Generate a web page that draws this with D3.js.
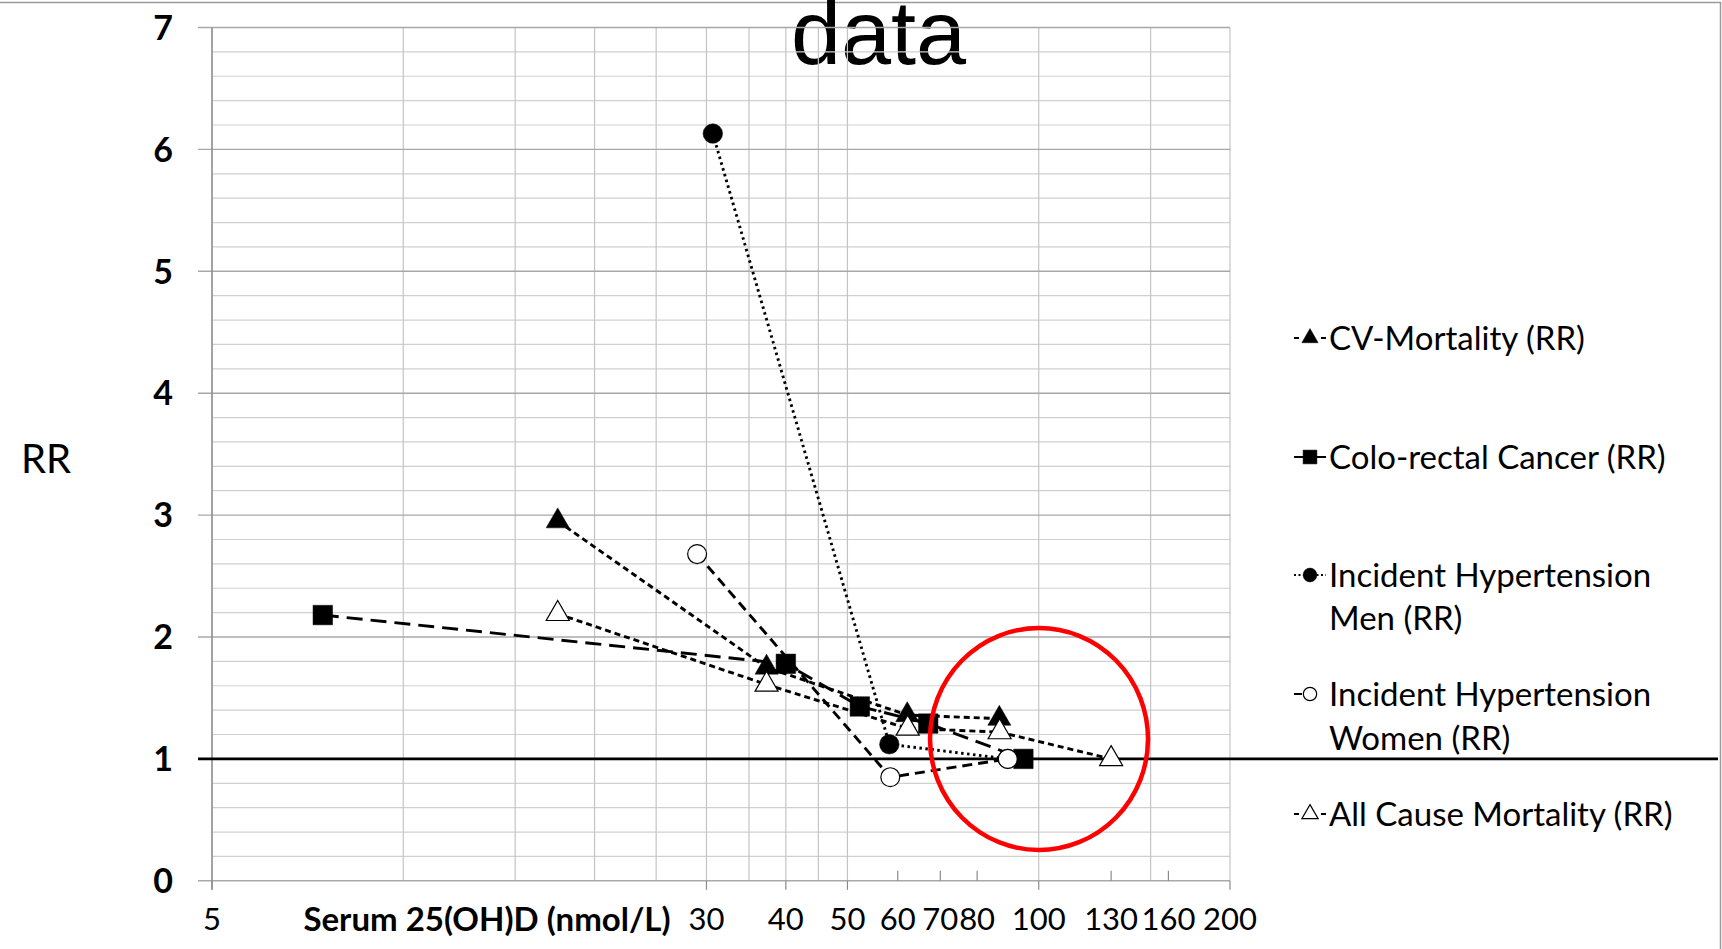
<!DOCTYPE html>
<html>
<head>
<meta charset="utf-8">
<script src="https://cdn.jsdelivr.net/npm/d3@7"></script>
<style>
  html, body { margin: 0; padding: 0; background: #fff; }
  svg { display: block; }
</style>
</head>
<body>
<script>
// ---------- data ----------
const xTickValues = [5, 30, 40, 50, 60, 70, 80, 100, 130, 160, 200];
const xGridValues = [5, 10, 15, 20, 25, 30, 35, 40, 45, 50, 100, 150, 200];
const yTickValues = [0, 1, 2, 3, 4, 5, 6, 7];

const cvX = [17.5, 37.3, 62.1, 86.7];
const cvY = [2.95, 1.75, 1.36, 1.33];
const crcX = [7.47, 40, 52.3, 67, 94.6];
const crcY = [2.18, 1.78, 1.43, 1.29, 1.0];
const menX = [30.7, 58.2, 89.4];
const menY = [6.13, 1.12, 1.0];
const womenX = [29.0, 58.4, 89.4];
const womenY = [2.68, 0.85, 1.0];
const allX = [17.5, 37.3, 62.2, 86.8, 130];
const allY = [2.19, 1.61, 1.25, 1.22, 1.0];

const seriesNames = ["CV-Mortality (RR)", "Colo-rectal Cancer (RR)",
  "Incident Hypertension\nMen (RR)", "Incident Hypertension\nWomen (RR)",
  "All Cause Mortality (RR)"];

// ---------- styles ----------
const series = [
  { name: seriesNames[0], xs: cvX, ys: cvY, symbol: d3.symbolTriangle, size: 230, fill: "#000", dash: "6,4", legDash: "5,22", legendY: [338] },
  { name: seriesNames[1], xs: crcX, ys: crcY, symbol: d3.symbolSquare, size: 380, fill: "#000", dash: "16,8", legDash: "none", legendY: [457] },
  { name: seriesNames[2], xs: menX, ys: menY, symbol: d3.symbolCircle, size: 300, fill: "#000", dash: "2.5,3.5", legDash: "2,2.5", legendY: [575, 618] },
  { name: seriesNames[3], xs: womenX, ys: womenY, symbol: d3.symbolCircle, size: 280, fill: "#fff", dash: "10,6", legDash: "8,40", legendY: [694, 738] },
  { name: seriesNames[4], xs: allX, ys: allY, symbol: d3.symbolTriangle, size: 230, fill: "#fff", dash: "6,4", legDash: "5,22", legendY: [814] }
];

const W = 1722, H = 949;
const svg = d3.select("body").append("svg").attr("width", W).attr("height", H);
svg.append("rect").attr("width", W).attr("height", H).attr("fill", "#fff");

const x = d3.scaleLog().domain([5, 200]).range([212, 1230]);
const y = d3.scaleLinear().domain([0, 7]).range([880.8, 27.5]);

// slide border
svg.append("line").attr("x1", 0).attr("x2", 1721).attr("y1", 2.5).attr("y2", 2.5).attr("stroke", "#9a9a9a").attr("stroke-width", 1.5);
svg.append("line").attr("x1", 1720.5).attr("x2", 1720.5).attr("y1", 2).attr("y2", H).attr("stroke", "#9a9a9a").attr("stroke-width", 1.5);

// title fragment (cut off at top, as in the source slide)
svg.append("text").attr("x", 791).attr("y", 64)
  .attr("font-family", "Liberation Sans, Arial, sans-serif").attr("font-size", 90)
  .attr("fill", "#000").text("data");

// horizontal grid (minor every 0.2)
const minor = d3.range(0, 7.0001, 0.2).filter(v => Math.abs(v - Math.round(v)) > 1e-6);
svg.append("g").selectAll("line").data(minor).join("line")
  .attr("x1", x(5)).attr("x2", x(200))
  .attr("y1", d => y(d)).attr("y2", d => y(d))
  .attr("stroke", "#d0d0d0").attr("stroke-width", 1.2);
// vertical grid
svg.append("g").selectAll("line").data(xGridValues).join("line")
  .attr("x1", d => x(d)).attr("x2", d => x(d))
  .attr("y1", y(7)).attr("y2", y(0))
  .attr("stroke", "#c4c4c4").attr("stroke-width", 1.2);
// major horizontal grid
svg.append("g").selectAll("line").data(yTickValues).join("line")
  .attr("x1", 198).attr("x2", x(200))
  .attr("y1", d => y(d)).attr("y2", d => y(d))
  .attr("stroke", "#a8a8a8").attr("stroke-width", 1.4);

// left axis line
svg.append("line").attr("x1", x(5)).attr("x2", x(5)).attr("y1", y(7)).attr("y2", y(0) + 9)
  .attr("stroke", "#8a8a8a").attr("stroke-width", 1.4);

// x ticks
const gridSet = new Set(xGridValues);
svg.append("g").selectAll("line").data(xTickValues).join("line")
  .attr("x1", d => x(d)).attr("x2", d => x(d))
  .attr("y1", d => gridSet.has(d) ? y(0) : y(0) - 10)
  .attr("y2", d => gridSet.has(d) ? y(0) + 9 : y(0))
  .attr("stroke", "#8a8a8a").attr("stroke-width", 1.2);

// y tick labels
svg.append("g").selectAll("text").data(yTickValues).join("text")
  .attr("x", 173).attr("y", d => y(d)).attr("dy", "0.36em")
  .attr("text-anchor", "end")
  .attr("font-family", "Lato, Carlito, sans-serif").attr("font-weight", "bold")
  .attr("font-size", 34).attr("fill", "#000").text(d => d);

// x tick labels
svg.append("g").selectAll("text").data(xTickValues).join("text")
  .attr("x", d => x(d)).attr("y", 919).attr("dy", "0.36em")
  .attr("text-anchor", "middle")
  .attr("font-family", "Lato, Carlito, sans-serif")
  .attr("font-size", 31).attr("fill", "#000").text(d => d);

// axis titles
svg.append("text").attr("x", 487).attr("y", 919).attr("dy", "0.36em")
  .attr("text-anchor", "middle")
  .attr("font-family", "Lato, Carlito, sans-serif").attr("font-weight", "bold")
  .attr("font-size", 33).attr("fill", "#000").text("Serum 25(OH)D (nmol/L)");
svg.append("text").attr("x", 46).attr("y", 459).attr("dy", "0.36em")
  .attr("text-anchor", "middle")
  .attr("font-family", "Lato, Carlito, sans-serif")
  .attr("font-size", 40).attr("fill", "#000").text("RR");

// reference line at RR = 1
svg.append("line").attr("x1", 198).attr("x2", 1718)
  .attr("y1", y(1)).attr("y2", y(1))
  .attr("stroke", "#000").attr("stroke-width", 2.6);

// series
const line = d3.line().x(d => x(d[0])).y(d => y(d[1]));
series.forEach(s => {
  const pts = s.xs.map((v, i) => [v, s.ys[i]]);
  const g = svg.append("g");
  g.append("path").attr("d", line(pts)).attr("fill", "none")
    .attr("stroke", "#000").attr("stroke-width", 2.9)
    .attr("stroke-dasharray", s.dash);
  g.selectAll("path.m").data(pts).join("path").attr("class", "m")
    .attr("transform", d => `translate(${x(d[0])},${y(d[1])})`)
    .attr("d", d3.symbol().type(s.symbol).size(s.size))
    .attr("fill", s.fill).attr("stroke", "#000")
    .attr("stroke-width", s.fill === "#fff" ? 1.2 : 0.5);
});

// red circle highlight
svg.append("ellipse").attr("cx", 1039).attr("cy", 739).attr("rx", 109).attr("ry", 111)
  .attr("fill", "none").attr("stroke", "#ff0000").attr("stroke-width", 4.5);

// legend
series.forEach(s => {
  const cy = s.legendY[0];
  const g = svg.append("g");
  g.append("line").attr("x1", 1294).attr("x2", 1326).attr("y1", cy).attr("y2", cy)
    .attr("stroke", "#000").attr("stroke-width", 2)
    .attr("stroke-dasharray", s.legDash);
  g.append("path").attr("transform", `translate(1310,${cy})`)
    .attr("d", d3.symbol().type(s.symbol).size(s.size * 0.5))
    .attr("fill", s.fill).attr("stroke", "#000").attr("stroke-width", s.fill === "#fff" ? 1.2 : 0.5);
  const lines = s.name.split("\n");
  lines.forEach((t, i) => {
    g.append("text").attr("x", 1329).attr("y", s.legendY[i]).attr("dy", "0.36em")
      .attr("font-family", "Lato, Carlito, sans-serif")
      .attr("font-size", 33).attr("fill", "#000").text(t);
  });
});
</script>
</body>
</html>
